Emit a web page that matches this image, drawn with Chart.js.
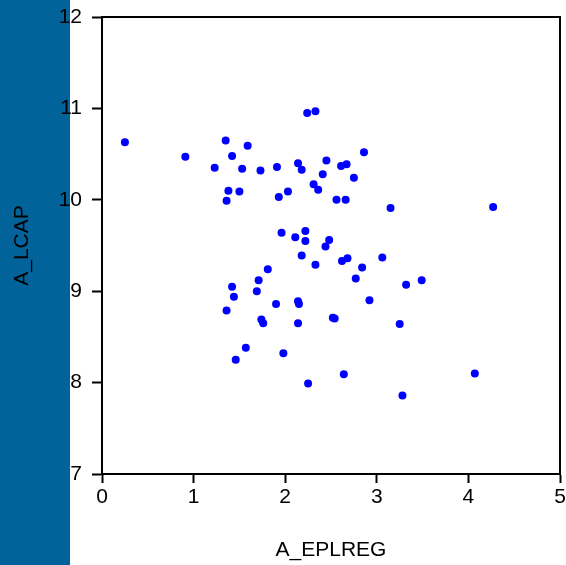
<!DOCTYPE html>
<html>
<head>
<meta charset="utf-8">
<script src="https://cdn.jsdelivr.net/npm/chart.js@4"></script>
<style>
  html, body { margin: 0; padding: 0; background: #fff; }
  #wrap { width: 566px; height: 565px; }
</style>
</head>
<body>
<div id="wrap"><canvas id="scatter"></canvas></div>
<script>
let xTitle = 'A_EPLREG'
let yTitle = 'A_LCAP'

// A_EPLREG values
let eplreg = [
  0.25, 0.91, 1.35, 1.59, 1.42, 1.23, 1.53, 1.73, 1.91, 2.14,
  2.18, 2.24, 2.33, 2.45, 2.41, 2.31, 2.36, 1.38, 1.50, 1.36,
  1.93, 2.03, 1.96, 2.11, 2.22, 2.22, 2.44, 2.48, 2.86, 2.61,
  2.67, 2.75, 2.56, 2.66, 3.15, 4.27, 2.18, 2.33, 2.62, 2.68,
  2.84, 3.06, 2.77, 3.32, 3.49, 1.81, 1.71, 1.69, 1.42, 1.44,
  1.90, 2.14, 2.15, 2.92, 1.74, 1.76, 2.14, 2.52, 2.54, 3.25,
  1.57, 1.46, 1.98, 2.64, 2.25, 4.07, 3.28, 1.36
]
// A_LCAP values
let lcap = [
  10.63, 10.47, 10.65, 10.59, 10.48, 10.35, 10.34, 10.32, 10.36, 10.40,
  10.33, 10.95, 10.97, 10.43, 10.28, 10.17, 10.11, 10.10, 10.09, 9.99,
  10.03, 10.09, 9.64, 9.59, 9.66, 9.55, 9.49, 9.56, 10.52, 10.37,
  10.39, 10.24, 10.00, 10.00, 9.91, 9.92, 9.39, 9.29, 9.33, 9.36,
  9.26, 9.37, 9.14, 9.07, 9.12, 9.24, 9.12, 9.00, 9.05, 8.94,
  8.86, 8.89, 8.86, 8.90, 8.69, 8.65, 8.65, 8.71, 8.70, 8.64,
  8.38, 8.25, 8.32, 8.09, 7.99, 8.10, 7.86, 8.79
]

let xTicks = [0, 1, 2, 3, 4, 5]
let yTicks = [7, 8, 9, 10, 11, 12]

let points = []
for (let i in eplreg) {
  points.push({x: eplreg[i], y: lcap[i]})
}

// blue strip on the left and the closed frame round the plot
const frame = {
  id: 'frame',
  beforeDraw(chart) {
    let c = chart.ctx
    c.save()
    c.fillStyle = '#02639a'
    c.fillRect(0, 0, 70, chart.height)
    c.restore()
  },
  afterDraw(chart) {
    let a = chart.chartArea
    let c = chart.ctx
    c.save()
    c.strokeStyle = '#000'
    c.lineWidth = 2
    c.strokeRect(a.left, a.top, a.right - a.left, a.bottom - a.top)
    c.restore()
  }
}

let ctx = document.getElementById('scatter')
let font = "'Liberation Sans', Arial, sans-serif"

var chart = new Chart(ctx, {
  type: 'scatter',
  data: {
    datasets: [{
      data: points,
      backgroundColor: '#0000ff',
      borderColor: '#0000ff',
      borderWidth: 0,
      pointRadius: 4,
    }]
  },
  options: {
    responsive: true,
    maintainAspectRatio: false,
    animation: false,
    layout: { padding: { left: 0, right: 6, top: 17, bottom: 0 } },
    plugins: {
      legend: { display: false },
      tooltip: { enabled: false },
    },
    scales: {
      x: {
        type: 'linear',
        min: xTicks[0],
        max: xTicks[xTicks.length - 1],
        afterBuildTicks: s => { s.ticks = xTicks.map(v => ({value: v})) },
        afterFit: s => {
          s.height = 91
          s.paddingLeft = 0
          s.paddingRight = 0
        },
        grid: { drawOnChartArea: false, color: '#000', tickLength: 9, tickWidth: 2 },
        border: { color: '#000', width: 2 },
        ticks: { color: '#000', font: { family: font, size: 21 }, padding: 2 },
        title: {
          display: true, text: xTitle, color: '#000',
          font: { family: font, size: 21 }, padding: { bottom: 2 }
        }
      },
      y: {
        type: 'linear',
        min: yTicks[0],
        max: yTicks[yTicks.length - 1],
        afterBuildTicks: s => { s.ticks = yTicks.map(v => ({value: v})) },
        afterFit: s => {
          s.width = 102
          s.paddingTop = 0
          s.paddingBottom = 0
        },
        grid: { drawOnChartArea: false, color: '#000', tickLength: 10, tickWidth: 2 },
        border: { color: '#000', width: 2 },
        ticks: { color: '#000', font: { family: font, size: 21 }, padding: 10 },
        title: {
          display: true, text: yTitle, color: '#000',
          font: { family: font, size: 21 }, padding: { top: 10 }
        }
      }
    }
  },
  plugins: [frame]
})
</script>
</body>
</html>
